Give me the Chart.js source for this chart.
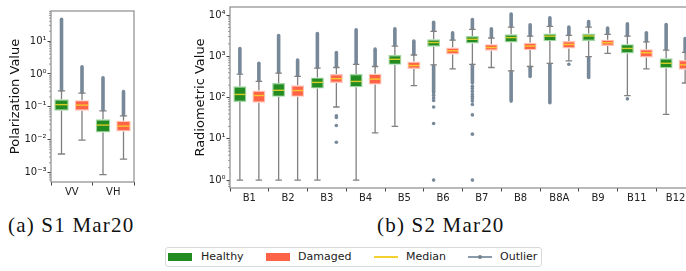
<!DOCTYPE html>
<html>
<head>
<meta charset="utf-8">
<script src="https://cdn.jsdelivr.net/npm/chart.js@4.4.0/dist/chart.umd.min.js"></script>
<style>
  body { margin: 0; width: 686px; height: 271px; overflow: hidden; background: #fff; position: relative; font-family: "DejaVu Sans", sans-serif; }
  #wrapA { position: absolute; left: 0; top: 0; width: 140px; height: 200px; }
  #wrapB { position: absolute; left: 160px; top: 0; width: 540px; height: 205px; }
  .cap { position: absolute; top: 213px; font-family: "Liberation Serif", serif; font-size: 21px; letter-spacing: 1.2px; color: #111; white-space: nowrap; }
  #legend { position: absolute; left: 165px; top: 247px; width: 377px; height: 20px; border: 1px solid #d9d9d9; border-radius: 3px; box-sizing: border-box; font-size: 11px; color: #222; }
  #legend .sw { position: absolute; top: 5px; width: 24px; height: 8px; }
  #legend .ln { position: absolute; top: 8px; width: 24px; height: 2px; }
  #legend .tx { position: absolute; top: 2px; }
</style>
</head>
<body>
<div id="wrapA"><canvas id="s1Chart" width="140" height="200"></canvas></div>
<div id="wrapB"><canvas id="s2Chart" width="540" height="205"></canvas></div>
<div class="cap" style="left:8px">(a) S1 Mar20</div>
<div class="cap" style="left:377px">(b) S2 Mar20</div>
<div id="legend">
  <div class="sw" style="left:2px;background:#228B22"></div><div class="tx" style="left:35px">Healthy</div>
  <div class="sw" style="left:100px;background:#FF6347"></div><div class="tx" style="left:132px">Damaged</div>
  <div class="ln" style="left:208px;background:#f5d12e"></div><div class="tx" style="left:240px">Median</div>
  <div class="ln" style="left:302px;height:1.5px;background:#8a9aab"></div>
  <div style="position:absolute;left:312px;top:7px;width:4px;height:4px;border-radius:2px;background:#708090"></div>
  <div class="tx" style="left:334px">Outlier</div>
</div>
<script>
// ---- S1 (Sentinel-1 polarization) ----
const s1Labels = ["VV", "VH"];
const s1HealthyLo = [0.0037, 0.00087];
const s1HealthyQ1 = [0.076, 0.0166];
const s1HealthyMed = [0.117, 0.028];
const s1HealthyQ3 = [0.171, 0.042];
const s1HealthyHi = [0.305, 0.076];
const s1HealthyOutMax = [46, 0.77];
const s1DamagedLo = [0.0097, 0.0026];
const s1DamagedQ1 = [0.076, 0.018];
const s1DamagedMed = [0.113, 0.026];
const s1DamagedQ3 = [0.16, 0.038];
const s1DamagedHi = [0.26, 0.053];
const s1DamagedOutMax = [1.66, 0.29];
const s1Ticks = [0.001, 0.01, 0.1, 1, 10];

// ---- S2 (Sentinel-2 bands) ----
const s2Labels = ["B1", "B2", "B3", "B4", "B5", "B6", "B7", "B8", "B8A", "B9", "B11", "B12"];
const s2HealthyLo = [1, 1, 1, 1, 20, 620, 640, 445, 675, 980, 112, 39];
const s2HealthyQ1 = [78, 104, 165, 177, 620, 1700, 2040, 2150, 2330, 2360, 1170, 515];
const s2HealthyMed = [119, 150, 233, 246, 845, 2150, 2580, 2840, 3070, 3110, 1550, 675];
const s2HealthyQ3 = [187, 225, 308, 370, 1070, 2580, 3080, 3400, 3540, 3540, 1970, 890];
const s2HealthyHi = [370, 390, 515, 640, 1770, 4000, 4480, 5100, 5300, 5100, 3070, 1410];
const s2HealthyOutMax = [1540, 3200, 3550, 4400, 4650, 6700, 7780, 10600, 8500, 6980, 6120, 5900];
const s2HealthyLowRunEnd = [null, null, null, null, null, 142, 225, 82, 75, 307, null, null];
const s2HealthyLowPts = [[], [], [], [], [], [130, 113, 98, 85, 59, 23.5, 1],
  [187, 166, 142, 122, 108, 95, 82, 68, 38, 13, 1], [], [], [], [93], []];
const s2DamagedLo = [1, 1, 59, 14, 194, 495, 535, 565, 770, 1170, 495, 225];
const s2DamagedQ1 = [75, 104, 225, 206, 490, 1110, 1360, 1410, 1550, 1770, 940, 470];
const s2DamagedMed = [112, 148, 287, 280, 596, 1360, 1630, 1770, 1930, 2130, 1220, 620];
const s2DamagedQ3 = [148, 198, 370, 378, 745, 1630, 1970, 2130, 2330, 2530, 1490, 815];
const s2DamagedHi = [246, 325, 535, 565, 1075, 2460, 2770, 3070, 3220, 3400, 2230, 1240];
const s2DamagedOutMax = [675, 815, 1240, 1490, 2330, 3720, 4650, 5800, 5100, 4800, 3720, 2690];
const s2DamagedLowRunEnd = [null, null, null, null, null, null, null, 325, null, null, null, null];
const s2DamagedLowPts = [[], [], [36, 33, 21, 8.3], [], [], [], [], [], [640], [], [], []];
const s2Ticks = [1, 10, 100, 1000, 10000];

const GREEN = "#228B22", RED = "#FF6347";
const WHISKER = "#808080", OUTLIER = "#778899", MEDIAN = "rgba(246, 215, 40, 0.85)";

const SUP = { "0": "\u2070", "1": "\u00b9", "2": "\u00b2", "3": "\u00b3", "4": "\u2074", "-": "\u207b" };
function powLabel(v) {
  const e = Math.round(Math.log10(v));
  return "10" + String(e).split("").map(c => SUP[c]).join("");
}

function mkSet(label, color, edge, q1, q3, stats) {
  return {
    label: label,
    data: q1.map((v, i) => [v, q3[i]]),
    backgroundColor: color,
    borderColor: edge,
    borderWidth: 1.2,
    borderSkipped: false,
    stats: stats
  };
}

// draws whiskers, caps and outliers behind the boxes, medians on top
const boxPlot = {
  id: "boxPlot",
  beforeDatasetsDraw(chart) {
    const ctx = chart.ctx, ys = chart.scales.y;
    ctx.save();
    chart.data.datasets.forEach((ds, d) => {
      const st = ds.stats;
      chart.getDatasetMeta(d).data.forEach((bar, i) => {
        const x = bar.x, cw = bar.width / 4;
        // outliers above the upper cap
        ctx.strokeStyle = OUTLIER;
        ctx.lineCap = "round";
        ctx.lineWidth = 3.6;
        ctx.beginPath();
        ctx.moveTo(x, ys.getPixelForValue(st.hi[i]) - 1);
        ctx.lineTo(x, ys.getPixelForValue(st.outMax[i]));
        ctx.stroke();
        if (st.lowRun && st.lowRun[i] != null) {
          ctx.beginPath();
          ctx.moveTo(x, ys.getPixelForValue(st.lo[i]) + 1);
          ctx.lineTo(x, ys.getPixelForValue(st.lowRun[i]));
          ctx.stroke();
        }
        ctx.fillStyle = OUTLIER;
        (st.lowPts ? st.lowPts[i] : []).forEach(v => {
          ctx.beginPath();
          ctx.arc(x, ys.getPixelForValue(v), 1.8, 0, Math.PI * 2);
          ctx.fill();
        });
        // whiskers
        ctx.strokeStyle = WHISKER;
        ctx.lineCap = "butt";
        ctx.lineWidth = 1.3;
        ctx.beginPath();
        ctx.moveTo(x, ys.getPixelForValue(st.lo[i]));
        ctx.lineTo(x, ys.getPixelForValue(ds.data[i][0]));
        ctx.moveTo(x, ys.getPixelForValue(ds.data[i][1]));
        ctx.lineTo(x, ys.getPixelForValue(st.hi[i]));
        [st.lo[i], st.hi[i]].forEach(v => {
          const py = ys.getPixelForValue(v);
          ctx.moveTo(x - cw, py);
          ctx.lineTo(x + cw, py);
        });
        ctx.stroke();
      });
    });
    ctx.restore();
  },
  afterDatasetsDraw(chart) {
    const ctx = chart.ctx, ys = chart.scales.y;
    ctx.save();
    ctx.strokeStyle = MEDIAN;
    ctx.lineWidth = 1.4;
    chart.data.datasets.forEach((ds, d) => {
      chart.getDatasetMeta(d).data.forEach((bar, i) => {
        const py = ys.getPixelForValue(ds.stats.med[i]);
        ctx.beginPath();
        ctx.moveTo(bar.x - bar.width / 2 + 1, py);
        ctx.lineTo(bar.x + bar.width / 2 - 1, py);
        ctx.stroke();
      });
    });
    // minor log ticks and frame
    const a = chart.chartArea;
    ctx.strokeStyle = "#555";
    ctx.lineWidth = 0.6;
    for (let e = -4; e <= 4; e++) {
      for (let m = 2; m <= 9; m++) {
        const v = m * Math.pow(10, e);
        if (v < ys.min || v > ys.max) continue;
        const py = ys.getPixelForValue(v);
        ctx.beginPath();
        ctx.moveTo(a.left, py);
        ctx.lineTo(a.left - 2, py);
        ctx.stroke();
      }
    }
    ctx.strokeStyle = "#8c8c8c";
    ctx.lineWidth = 1.2;
    ctx.strokeRect(a.left, a.top, a.right - a.left, a.bottom - a.top);
    ctx.restore();
  }
};

function makeChart(id, labels, sets, yMin, yMax, tickVals, title, yWidth, xHeight, pad, catPct, barPct) {
  return new Chart(document.getElementById(id).getContext("2d"), {
    type: "bar",
    data: { labels: labels, datasets: sets },
    options: {
      responsive: false,
      animation: false,
      devicePixelRatio: 1,
      categoryPercentage: catPct,
      barPercentage: barPct,
      layout: { padding: pad },
      plugins: { legend: { display: false }, tooltip: { enabled: false } },
      scales: {
        x: {
          grid: { drawOnChartArea: false, tickLength: 3.5, color: "#444", tickColor: "#444" },
          border: { display: false },
          ticks: { color: "#222", font: { family: "DejaVu Sans", size: 10 }, padding: 1, maxRotation: 0 },
          afterFit: s => { s.height = xHeight; }
        },
        y: {
          type: "logarithmic",
          min: yMin,
          max: yMax,
          bounds: "data",
          afterBuildTicks: s => { s.ticks = tickVals.map(v => ({ value: v })); },
          grid: { drawOnChartArea: false, tickLength: 3.5, color: "#444", tickColor: "#444" },
          border: { display: false },
          ticks: {
            autoSkip: false,
            padding: 1,
            color: "#222",
            font: { family: "DejaVu Sans", size: 10 },
            callback: v => powLabel(v)
          },
          title: { display: true, text: title, color: "#111", font: { family: "DejaVu Sans", size: 13 }, padding: 0 },
          afterFit: s => { s.width = yWidth; }
        }
      }
    },
    plugins: [boxPlot]
  });
}

makeChart("s1Chart", s1Labels, [
  mkSet("Healthy", GREEN, "rgba(150, 210, 150, 0.9)", s1HealthyQ1, s1HealthyQ3,
    { lo: s1HealthyLo, med: s1HealthyMed, hi: s1HealthyHi, outMax: s1HealthyOutMax }),
  mkSet("Damaged", RED, "rgba(255, 190, 175, 0.9)", s1DamagedQ1, s1DamagedQ3,
    { lo: s1DamagedLo, med: s1DamagedMed, hi: s1DamagedHi, outMax: s1DamagedOutMax })
], 0.000521, 82, s1Ticks, "Polarization Value", 43, 18, { left: 8, top: 11, right: 6, bottom: 0 }, 0.988, 0.707);

makeChart("s2Chart", s2Labels, [
  mkSet("Healthy", GREEN, "rgba(150, 210, 150, 0.9)", s2HealthyQ1, s2HealthyQ3,
    { lo: s2HealthyLo, med: s2HealthyMed, hi: s2HealthyHi, outMax: s2HealthyOutMax, lowRun: s2HealthyLowRunEnd, lowPts: s2HealthyLowPts }),
  mkSet("Damaged", RED, "rgba(255, 190, 175, 0.9)", s2DamagedQ1, s2DamagedQ3,
    { lo: s2DamagedLo, med: s2DamagedMed, hi: s2DamagedHi, outMax: s2DamagedOutMax, lowRun: s2DamagedLowRunEnd, lowPts: s2DamagedLowPts })
], 0.644, 15630, s2Ticks, "Radiometric Value", 37, 17, { left: 33, top: 5, right: 5, bottom: 0 }, 0.98, 0.684);
</script>
</body>
</html>
